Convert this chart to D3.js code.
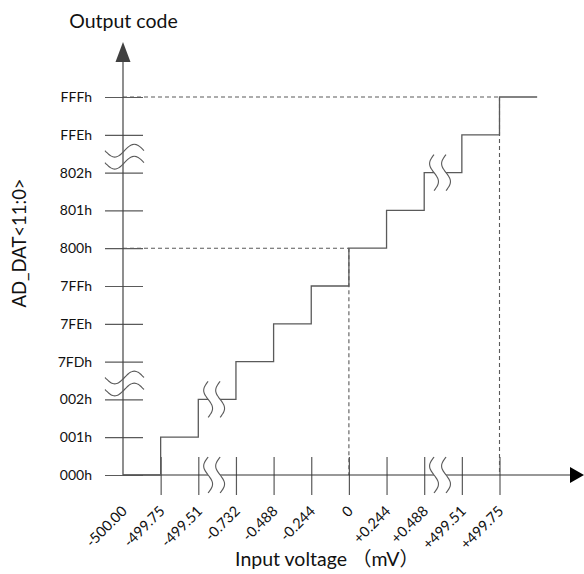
<!DOCTYPE html>
<html><head><meta charset="utf-8">
<script src="https://cdn.jsdelivr.net/npm/d3@7"></script>
<style>
html,body{margin:0;padding:0;background:#fff;}
text{font-family:Lato,"Noto Sans CJK SC",sans-serif;fill:#111;}
</style></head>
<body>
<svg id="c" width="584" height="574"></svg>
<script>
// ---- data ----
const yLabels = ["000h","001h","002h","7FDh","7FEh","7FFh","800h","801h","802h","FFEh","FFFh"];
const xLabels = ["-500.00","-499.75","-499.51","-0.732","-0.488","-0.244","0","+0.244","+0.488","+499.51","+499.75"];
// step: output code index begins at input index
const stepX = [0,1,2,3,4,5,6,7,8,9,10,11];
const stepCode = [0,1,2,3,4,5,6,7,8,9,10,10];
const breakIdx = [2.5, 8.5];        // axis breaks between ticks
const stepBreakCode = [2, 8];       // step-line break levels
const dashH = [[10,10],[6,6]];      // [code, xIndex end]
const dashV = [6,10];

const svg = d3.select("#c");
const x = d3.scaleLinear().domain([0,10]).range([123,499.5]);
const y = d3.scaleLinear().domain([0,10]).range([475,97]);
const LC = "#5a5a5a";

// dashed guides
const g = svg.append("g");
dashH.forEach(([c,xi])=>{
  g.append("line").attr("x1",x(0)).attr("x2",x(xi)).attr("y1",y(c)).attr("y2",y(c))
   .attr("stroke",LC).attr("stroke-width",1.1).attr("stroke-dasharray","4,3");
});
dashV.forEach(xi=>{
  g.append("line").attr("x1",x(xi)).attr("x2",x(xi)).attr("y1",y(xi)).attr("y2",y(0))
   .attr("stroke",LC).attr("stroke-width",1.1).attr("stroke-dasharray","4,3");
});

// y axis
const yAxis = d3.axisLeft(y).tickValues(d3.range(yLabels.length)).tickFormat(i=>yLabels[i])
  .tickSizeOuter(0).tickSizeInner(18).tickPadding(13);
const ya = svg.append("g").attr("transform",`translate(${x(0)},0)`).call(yAxis);
ya.select(".domain").remove();
ya.selectAll(".tick line").attr("x1",20).attr("stroke",LC).attr("stroke-width",1.2);
ya.selectAll(".tick text").attr("font-size",14).attr("fill","#111").attr("font-family","Lato");
svg.append("line").attr("x1",x(0)).attr("x2",x(0)).attr("y1",y(0)).attr("y2",60)
  .attr("stroke","#444").attr("stroke-width",1.2);
svg.append("path").attr("d",`M${x(0)},42 L${x(0)-7.5},62 L${x(0)+7.5},62 Z`).attr("fill","#404040");

// x axis
const xAxis = d3.axisBottom(x).tickValues(d3.range(1,xLabels.length)).tickFormat("")
  .tickSizeOuter(0).tickSizeInner(20);
const xa = svg.append("g").attr("transform",`translate(0,${y(0)})`).call(xAxis);
xa.select(".domain").remove();
xa.selectAll(".tick line").attr("y1",-18).attr("stroke",LC).attr("stroke-width",1.2);
svg.append("line").attr("x1",x(0)).attr("x2",572).attr("y1",y(0)).attr("y2",y(0))
  .attr("stroke","#333").attr("stroke-width",1.2);
svg.append("path").attr("d",`M584,${y(0)} L570,${y(0)-8} L570,${y(0)+8} Z`).attr("fill","#000");

// x tick labels rotated
svg.append("g").selectAll("text").data(xLabels).join("text")
  .attr("transform",(d,i)=>`translate(${x(i)+5},${512}) rotate(-45)`)
  .attr("text-anchor","end").attr("font-size",14.5).text(d=>d);

// step line
const line = d3.line().x(d=>x(d[0])).y(d=>y(d[1])).curve(d3.curveStepAfter);
svg.append("path").datum(stepX.map((v,i)=>[v,stepCode[i]])).attr("d",line)
  .attr("fill","none").attr("stroke",LC).attr("stroke-width",1.3);

// break symbols
function sCurve(cx,cy,h,A){
  return d3.range(0,1.0001,0.05).map(t=>[cx-A*Math.sin(2*Math.PI*t), cy-h/2+h*t]);
}
function drawVBreak(cx,cy){
  const c1=sCurve(cx-6,cy,36,4.5), c2=sCurve(cx+6,cy,36,4.5);
  const ln=d3.line().curve(d3.curveBasis);
  svg.append("path").attr("d",d3.line()(c1.concat(c2.slice().reverse()))+"Z").attr("fill","#fff");
  [c1,c2].forEach(c=>svg.append("path").attr("d",ln(c)).attr("fill","none").attr("stroke",LC).attr("stroke-width",1.1));
}
function wave(cy,x0,x1,A){
  return d3.range(0,1.0001,0.05).map(t=>[x0+(x1-x0)*t, cy+A*Math.sin(2*Math.PI*t)]);
}
function drawHBreak(cy){
  const ln=d3.line().curve(d3.curveBasis);
  [cy-6,cy+6].forEach(c=>svg.append("path").attr("d",ln(wave(c,105,144,6.5))).attr("fill","none").attr("stroke",LC).attr("stroke-width",1.1));
}
breakIdx.forEach(b=>{
  drawVBreak(x(b)-3, y(0));
  drawHBreak(y(b)+3);
});
stepBreakCode.forEach(c=>drawVBreak(x(c+0.5)-3, y(c)));

// titles
svg.append("text").attr("x",123.5).attr("y",28).attr("text-anchor","middle").attr("font-size",19.5).text("Output code");
svg.append("text").attr("transform","translate(26,243) rotate(-90)").attr("text-anchor","middle").attr("font-size",18.5).text("AD_DAT<11:0>");
svg.append("text").attr("x",327).attr("y",566).attr("text-anchor","middle").attr("font-size",19.5).text("Input voltage （mV）");
</script>
</body></html>
